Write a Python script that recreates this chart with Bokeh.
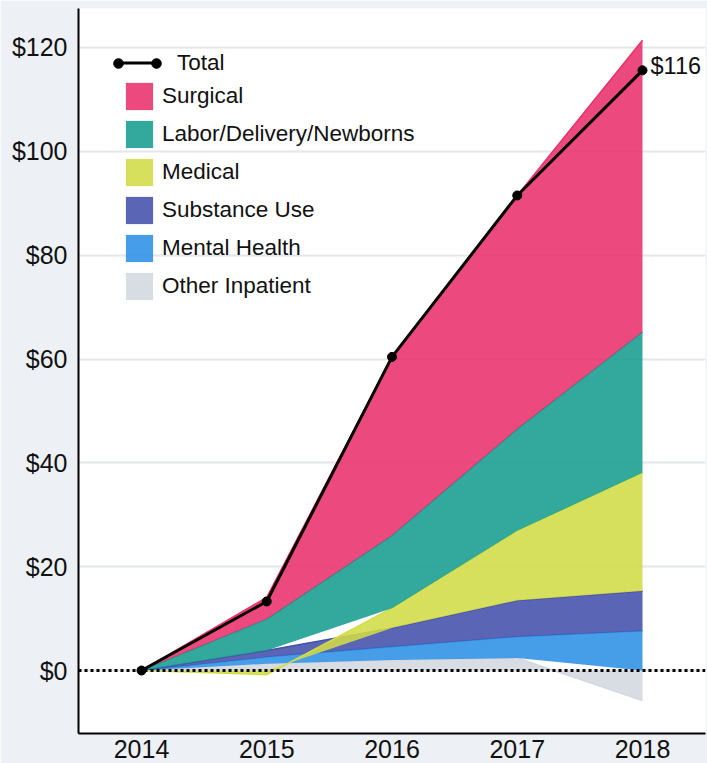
import numpy as np
from bokeh.plotting import figure
from bokeh.models import (Range1d, FixedTicker, PrintfTickFormatter, Span, Legend,
                          LegendItem, ColumnDataSource)
from bokeh.core.properties import value
from bokeh.embed import file_html
from bokeh.resources import INLINE

# ---- data (values in $ millions) ----
years = [2014, 2015, 2016, 2017, 2018]
series_names = ["Other Inpatient", "Mental Health", "Substance Use", "Medical",
                "Labor/Delivery/Newborns", "Surgical"]
other_inpatient = [0, 1.3, 2.05, 2.4, -5.8]
mental_health = [0, 1.3, 2.55, 4.1, 7.6]
substance_use = [0, 1.25, 3.6, 7.0, 7.7]
medical = [0, -0.8, 3.8, 13.4, 22.8]
labor_delivery = [0, 6.05, 14.0, 19.6, 27.1]
surgical = [0, 4.2, 34.4, 45.0, 56.2]
y_ticks = [0, 20, 40, 60, 80, 100, 120]

series_values = [other_inpatient, mental_health, substance_use, medical,
                 labor_delivery, surgical]
series_colors = ["#D3D7DF", "#2E91E5", "#4450AB", "#D2DC45", "#179D90", "#E9316C"]

total = np.sum(np.array(series_values, dtype=float), axis=0)

FONT = "Liberation Sans"

p = figure(width=707, height=763, output_backend="svg", toolbar_location=None,
           x_range=Range1d(2013.497, 2018.503), y_range=Range1d(-12.13, 127.51),
           min_border_left=78, min_border_right=2, min_border_top=8,
           min_border_bottom=30)
p.border_fill_color = "#EDF0F4"
p.background_fill_color = "white"
p.outline_line_color = None

# stacked areas (positive and negative values stacked separately)
pos_base = np.zeros(len(years))
neg_base = np.zeros(len(years))
area_renderers = []
for name, vals, color in zip(series_names, series_values, series_colors):
    v = np.array(vals, dtype=float)
    bottom = np.where(v >= 0, pos_base, neg_base)
    top = bottom + v
    pos_base = np.where(v >= 0, top, pos_base)
    neg_base = np.where(v < 0, top, neg_base)
    src = ColumnDataSource(dict(x=years, y1=bottom, y2=top))
    r = p.varea(x="x", y1="y1", y2="y2", source=src, fill_color=color, fill_alpha=0.88)
    p.line(x="x", y="y2", source=src, line_color=color, line_width=1.5)
    area_renderers.append((name, r))

# zero line
p.add_layout(Span(location=0, dimension="width", line_color="black",
                  line_width=3, line_dash="3 3"))

# total line
tsrc = ColumnDataSource(dict(x=years, y=total))
tl = p.line(x="x", y="y", source=tsrc, line_color="black", line_width=3)
ts = p.scatter(x="x", y="y", source=tsrc, size=9, fill_color="black", line_color="black")

# end label
p.text(x=[years[-1]], y=[total[-1]], text=[f"${int(round(total[-1]))}"],
       x_offset=8, y_offset=-4, text_baseline="middle", text_align="left",
       text_font=value(FONT), text_font_size="23.5px", text_color="#111111")

# axes
p.xaxis.ticker = FixedTicker(ticks=years)
p.yaxis.ticker = FixedTicker(ticks=y_ticks)
p.yaxis.formatter = PrintfTickFormatter(format="$%d")
for ax in (p.xaxis[0], p.yaxis[0]):
    ax.axis_line_color = "black"
    ax.axis_line_width = 2
    ax.major_tick_line_color = None
    ax.minor_tick_line_color = None
    ax.major_tick_out = 0
    ax.major_tick_in = 0
    ax.minor_tick_out = 0
    ax.major_label_text_font = FONT
    ax.major_label_text_font_size = "25px"
    ax.major_label_text_color = "#111111"
p.yaxis.major_label_standoff = 11
p.xaxis.major_label_standoff = 6

p.xgrid.grid_line_color = None
p.ygrid.grid_line_color = "#E3E6EB"
p.ygrid.grid_line_width = 2

common = dict(padding=0, margin=0, border_line_alpha=0, background_fill_alpha=0,
              label_text_font=FONT, label_text_font_size="22.5px",
              label_text_color="#111111")

# legends
leg_total = Legend(items=[LegendItem(label="Total", renderers=[tl])],
                   location=(40, 657), glyph_width=38, glyph_height=27,
                   label_height=27, label_standoff=21, **common)
leg_dot_l = Legend(items=[LegendItem(label="", renderers=[ts])],
                   location=(28, 658), glyph_width=24, glyph_height=24,
                   label_height=24, label_standoff=0, **common)
leg_dot_r = Legend(items=[LegendItem(label="", renderers=[ts])],
                   location=(66, 658), glyph_width=24, glyph_height=24,
                   label_height=24, label_standoff=0, **common)
leg_areas = Legend(items=[LegendItem(label=n, renderers=[r]) for n, r in reversed(area_renderers)],
                   location=(44, 430), glyph_width=34, glyph_height=34,
                   label_height=34, label_standoff=6, spacing=4, **common)
for lg in (leg_total, leg_dot_l, leg_dot_r, leg_areas):
    p.add_layout(lg, "center")

open("out.html", "w").write(file_html(p, INLINE))
